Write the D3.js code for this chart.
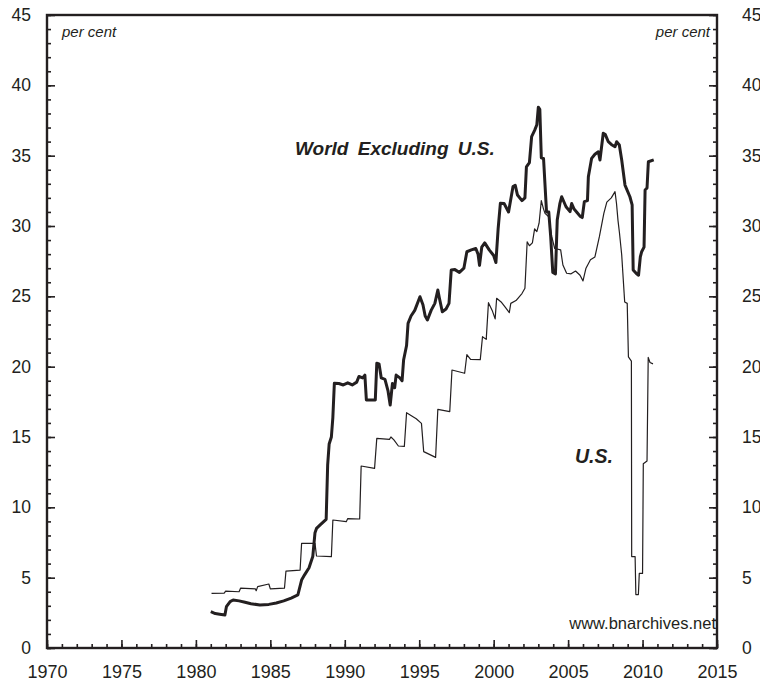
<!DOCTYPE html>
<html>
<head>
<meta charset="utf-8">
<script src="https://cdn.jsdelivr.net/npm/d3@7"></script>
<style>
  html, body { margin: 0; padding: 0; background: #fff; }
  svg { display: block; }
  text { font-family: "Liberation Sans", Arial, Helvetica, sans-serif; fill: #231f20; }
</style>
</head>
<body>
<svg id="chart" width="760" height="686"></svg>
<script>
// ---- Data (year, per cent) ----
const xTickYears = [1970, 1975, 1980, 1985, 1990, 1995, 2000, 2005, 2010, 2015];
const yTickValues = [0, 5, 10, 15, 20, 25, 30, 35, 40, 45];

const usSeries = [
  [1981.05,3.89],[1981.9,3.9],[1982.0,4.05],[1982.9,4.0],[1983.0,4.25],[1984.0,4.2],[1984.05,4.07],
  [1984.15,4.36],[1984.9,4.55],[1985.0,4.2],[1985.95,4.25],[1986.05,5.47],[1987.0,5.54],[1987.1,7.44],
  [1988.0,7.44],[1988.1,6.54],[1989.1,6.49],[1989.2,9.1],[1990.1,8.98],[1990.2,9.2],[1991.0,9.17],
  [1991.1,12.94],[1992.0,12.77],[1992.15,14.9],[1993.0,14.83],[1993.1,15.0],[1993.3,14.8],[1993.6,14.36],
  [1994.0,14.33],[1994.15,16.73],[1994.5,16.5],[1994.8,16.3],[1995.15,15.97],[1995.3,13.96],[1996.1,13.55],
  [1996.25,16.97],[1997.05,16.8],[1997.2,19.76],[1998.05,19.53],[1998.2,20.85],[1998.45,20.52],[1999.1,20.5],
  [1999.25,22.13],[1999.5,21.94],[1999.65,24.55],[1999.9,24.0],[2000.1,23.4],[2000.2,24.86],[2000.5,24.6],
  [2000.8,24.2],[2001.05,23.84],[2001.15,24.5],[2001.5,24.7],[2001.9,25.2],[2002.1,25.57],[2002.25,28.88],
  [2002.4,28.6],[2002.6,28.8],[2002.75,29.8],[2002.9,29.6],[2003.05,30.2],[2003.2,31.8],[2003.35,31.2],
  [2003.45,30.9],[2003.7,30.66],[2003.9,29.24],[2004.1,28.4],[2004.5,28.3],[2004.65,27.23],[2004.9,26.64],
  [2005.2,26.6],[2005.5,26.8],[2005.8,26.5],[2006.0,26.1],[2006.2,27.0],[2006.5,27.6],[2006.8,27.8],
  [2007.1,29.24],[2007.4,30.9],[2007.6,31.7],[2007.9,32.0],[2008.15,32.44],[2008.25,31.6],[2008.35,30.4],
  [2008.45,29.5],[2008.6,27.94],[2008.8,24.6],[2008.97,24.5],[2009.05,20.7],[2009.25,20.4],[2009.27,6.5],
  [2009.5,6.5],[2009.55,3.8],[2009.72,3.8],[2009.78,5.3],[2010.0,5.3],[2010.05,13.1],[2010.3,13.3],
  [2010.38,20.66],[2010.5,20.3],[2010.7,20.2]
];

const worldSeries = [
  [1981.0,2.58],[1981.3,2.45],[1981.6,2.4],[1981.95,2.35],[1982.05,2.94],[1982.3,3.3],[1982.5,3.41],
  [1982.9,3.35],[1983.3,3.25],[1983.7,3.15],[1984.3,3.06],[1984.9,3.1],[1985.4,3.2],[1985.9,3.35],
  [1986.4,3.55],[1986.85,3.77],[1987.1,4.83],[1987.3,5.2],[1987.6,5.7],[1987.85,6.5],[1988.0,8.2],
  [1988.1,8.5],[1988.4,8.8],[1988.75,9.15],[1988.85,13.0],[1988.95,14.5],[1989.1,15.0],[1989.2,16.4],
  [1989.3,18.82],[1989.6,18.8],[1989.9,18.7],[1990.2,18.85],[1990.5,18.7],[1990.8,18.9],[1990.95,19.3],
  [1991.2,19.2],[1991.35,19.4],[1991.45,17.63],[1992.05,17.63],[1992.15,20.24],[1992.3,20.2],[1992.45,19.2],
  [1992.7,19.1],[1992.9,18.3],[1993.05,17.27],[1993.2,18.8],[1993.35,18.5],[1993.45,19.4],[1993.7,19.2],
  [1993.85,19.0],[1993.95,20.47],[1994.15,21.5],[1994.25,23.08],[1994.45,23.6],[1994.7,24.0],[1995.05,24.97],
  [1995.25,24.4],[1995.4,23.6],[1995.55,23.32],[1995.8,24.0],[1996.05,24.5],[1996.25,25.45],[1996.35,24.9],
  [1996.55,23.9],[1996.8,24.1],[1997.0,24.5],[1997.15,26.87],[1997.4,26.9],[1997.7,26.7],[1998.0,27.0],
  [1998.2,28.17],[1998.5,28.3],[1998.8,28.4],[1998.95,28.0],[1999.05,27.2],[1999.2,28.5],[1999.4,28.8],
  [1999.7,28.3],[2000.0,27.9],[2000.15,27.4],[2000.3,29.8],[2000.45,31.61],[2000.7,31.6],[2001.0,31.0],
  [2001.3,32.8],[2001.45,32.9],[2001.6,32.2],[2001.9,31.8],[2002.1,32.0],[2002.2,34.2],[2002.4,34.5],
  [2002.55,36.35],[2002.75,36.8],[2002.9,37.2],[2003.0,38.45],[2003.1,38.3],[2003.2,34.85],[2003.35,34.8],
  [2003.55,31.0],[2003.7,31.0],[2003.83,29.24],[2003.97,26.7],[2004.15,26.6],[2004.27,30.43],[2004.45,31.61],
  [2004.57,32.08],[2004.86,31.37],[2005.13,31.02],[2005.24,31.6],[2005.4,31.2],[2005.57,31.0],[2005.8,30.7],
  [2005.95,30.6],[2006.09,31.73],[2006.3,31.8],[2006.36,33.5],[2006.58,34.81],[2006.8,35.1],[2007.03,35.28],
  [2007.14,34.69],[2007.36,36.59],[2007.5,36.5],[2007.7,35.99],[2007.9,35.8],[2008.15,35.64],[2008.26,35.99],
  [2008.44,35.76],[2008.6,34.69],[2008.82,32.91],[2009.15,32.08],[2009.3,31.5],[2009.37,26.87],[2009.6,26.6],
  [2009.73,26.5],[2009.85,27.8],[2009.94,28.17],[2010.1,28.5],[2010.17,32.56],[2010.3,32.7],[2010.39,34.57],
  [2010.75,34.7]
];

const seriesLabels = { world: "World Excluding U.S.", us: "U.S." };
const unitLabel = "per cent";
const sourceLabel = "www.bnarchives.net";

// ---- Drawing ----
const svg = d3.select("#chart");
const ink = "#231f20";
const L = 47, R = 717, T = 15, B = 648;

const x = d3.scaleLinear().domain([1970, 2015]).range([L, R]);
const y = d3.scaleLinear().domain([0, 45]).range([B, T]);

const minorYears = d3.range(1970, 2016, 1);
const minorVals = d3.range(0, 46, 1);

function styleAxis(fs) {
  return function (g) {
    g.attr("font-size", fs);
    g.select(".domain").remove();
    g.selectAll(".tick line").attr("stroke", ink).attr("stroke-width", 1.6);
    g.selectAll(".tick text").attr("font-size", fs).attr("fill", ink)
      .style("font-size", fs + "px")
      .style("font-family", "'Liberation Sans', Arial, sans-serif");
  };
}

// bottom axis: minor + major ticks pointing inward
svg.append("g").attr("transform", `translate(0,${B})`)
  .call(d3.axisBottom(x).tickValues(minorYears).tickSize(-4).tickFormat(""))
  .call(styleAxis(17));
svg.append("g").attr("transform", `translate(0,${B})`)
  .call(d3.axisBottom(x).tickValues(xTickYears).tickSize(-8).tickPadding(17).tickFormat(d3.format("d")))
  .call(styleAxis(18));

// left axis
svg.append("g").attr("transform", `translate(${L},0)`)
  .call(d3.axisLeft(y).tickValues(minorVals).tickSize(-4).tickFormat(""))
  .call(styleAxis(17));
svg.append("g").attr("transform", `translate(${L},0)`)
  .call(d3.axisLeft(y).tickValues(yTickValues).tickSize(-8).tickPadding(16).tickFormat(d3.format("d")))
  .call(styleAxis(17.5));

// right axis
svg.append("g").attr("transform", `translate(${R},0)`)
  .call(d3.axisRight(y).tickValues(minorVals).tickSize(-4).tickFormat(""))
  .call(styleAxis(17));
svg.append("g").attr("transform", `translate(${R},0)`)
  .call(d3.axisRight(y).tickValues(yTickValues).tickSize(-8).tickPadding(25).tickFormat(d3.format("d")))
  .call(styleAxis(17.5));

// frame
svg.append("rect").attr("x", L).attr("y", T).attr("width", R - L).attr("height", B - T)
  .attr("fill", "none").attr("stroke", ink).attr("stroke-width", 2.4);

// lines
const line = d3.line().x(d => x(d[0])).y(d => y(d[1]));
svg.append("path").datum(usSeries).attr("d", line)
  .attr("fill", "none").attr("stroke", ink).attr("stroke-width", 1.2).attr("stroke-linejoin", "round");
svg.append("path").datum(worldSeries).attr("d", line)
  .attr("fill", "none").attr("stroke", ink).attr("stroke-width", 3).attr("stroke-linejoin", "round");

// text labels
svg.append("text").attr("x", 62).attr("y", 37).attr("font-size", 15).attr("font-style", "italic").text(unitLabel);
svg.append("text").attr("x", 710).attr("y", 37).attr("font-size", 15).attr("font-style", "italic")
  .attr("text-anchor", "end").text(unitLabel);

svg.append("text").attr("x", 295).attr("y", 155).attr("font-size", 19).attr("font-weight", "bold")
  .attr("font-style", "italic").attr("word-spacing", 4).text(seriesLabels.world);
svg.append("text").attr("x", 575).attr("y", 463).attr("font-size", 19.5).attr("font-weight", "bold")
  .attr("font-style", "italic").text(seriesLabels.us);

svg.append("text").attr("x", 716).attr("y", 629).attr("font-size", 16.5).attr("text-anchor", "end").text(sourceLabel);
</script>
</body>
</html>
